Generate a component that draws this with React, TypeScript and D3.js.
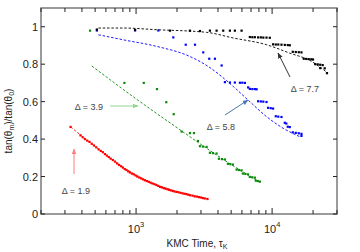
import * as d3 from "d3";

// time in KMC units, value = tan(theta_m)/tan(theta_0)
const redDots: [number, number][] = [
  [330, 0.465], [390, 0.42], [405, 0.41], [420, 0.4], [437, 0.392], [455, 0.385], [472, 0.375],
  [490, 0.366], [510, 0.356], [530, 0.345], [550, 0.337], [570, 0.33], [590, 0.32], [610, 0.312],
  [630, 0.304], [650, 0.296], [675, 0.288], [700, 0.28], [725, 0.27], [750, 0.262], [775, 0.255],
  [800, 0.248], [825, 0.24], [850, 0.235], [875, 0.228], [900, 0.222], [930, 0.216], [960, 0.212],
  [990, 0.206], [1020, 0.2], [1055, 0.195], [1090, 0.19], [1125, 0.185], [1160, 0.18], [1200, 0.176],
  [1240, 0.172], [1280, 0.167], [1320, 0.163], [1365, 0.159], [1410, 0.155], [1455, 0.15],
  [1500, 0.145], [1550, 0.142], [1600, 0.138], [1650, 0.135], [1700, 0.132], [1750, 0.129],
  [1800, 0.126], [1860, 0.123], [1920, 0.12], [1985, 0.118], [2050, 0.116], [2120, 0.113],
  [2200, 0.11], [2275, 0.108], [2350, 0.106], [2420, 0.103], [2500, 0.1], [2600, 0.098],
  [2700, 0.094], [2800, 0.093], [2900, 0.09], [3000, 0.088], [3100, 0.085], [3200, 0.083], [3350, 0.08],
];
const redFit: [number, number][] = [[330, 0.465], [500, 0.36], [800, 0.25], [1300, 0.165], [2000, 0.12], [3400, 0.08]];

const greenDots: [number, number][] = [
  [459, 0.979], [821, 0.7], [1139, 0.7], [1425, 0.667], [1668, 0.597], [1891, 0.533],
  [2163, 0.44], [2490, 0.432], [2665, 0.432], [2850, 0.39],
  [2948, 0.362], [3102, 0.36], [3302, 0.358],
  [3490, 0.327], [3674, 0.325], [3908, 0.323],
  [4065, 0.295], [4276, 0.293], [4498, 0.291],
  [4731, 0.268], [4934, 0.266], [5150, 0.264],
  [5483, 0.237], [5700, 0.235], [5965, 0.233],
  [6095, 0.216], [6355, 0.214], [6633, 0.212],
  [6855, 0.198], [7155, 0.196], [7470, 0.194],
  [7585, 0.178], [7850, 0.176], [8130, 0.173],
];
const greenFit: [number, number][] = [[473, 0.79], [1000, 0.615], [2100, 0.45], [4000, 0.31], [8100, 0.17]];

const blueDots: [number, number][] = [
  [515, 0.98], [983, 0.98], [1458, 0.98], [1878, 0.943], [2318, 0.904], [2711, 0.904],
  [3118, 0.863], [3452, 0.829], [3800, 0.829], [4256, 0.793],
  [4498, 0.704], [4895, 0.702], [5323, 0.702], [5796, 0.701], [6040, 0.701], [6310, 0.7],
  [6668, 0.676],
  [6861, 0.668], [7160, 0.667], [7467, 0.667], [7690, 0.666],
  [7896, 0.602], [8265, 0.601], [8618, 0.6], [9096, 0.598],
  [9340, 0.567], [9775, 0.565], [10169, 0.563],
  [10644, 0.522], [11104, 0.52], [11722, 0.518],
  [12400, 0.487], [12720, 0.483],
  [13040, 0.466], [13490, 0.464],
  [14190, 0.436], [14930, 0.433], [15710, 0.431], [16440, 0.428], [16440, 0.417],
];
const blueFit: [number, number][] = [
  [529, 0.957], [807, 0.93], [1418, 0.895], [2489, 0.841], [3388, 0.788], [5176, 0.681],
  [6855, 0.6], [9096, 0.52], [12050, 0.458], [15960, 0.413],
];

const blackDots: [number, number][] = [
  [515, 0.985], [983, 0.983], [1775, 0.979], [2490, 0.979], [2948, 0.977], [3490, 0.979],
  [3908, 0.979], [4371, 0.979], [4895, 0.979], [5323, 0.979], [5965, 0.979],
  [6861, 0.945], [7160, 0.944], [7467, 0.944], [7896, 0.943], [8265, 0.943], [8618, 0.942], [9096, 0.942], [9618, 0.941],
  [10169, 0.906], [10644, 0.905], [11104, 0.905], [11722, 0.904], [12400, 0.903], [13040, 0.902], [13490, 0.901],
  [14190, 0.866], [14930, 0.865], [15710, 0.864], [16440, 0.863],
  [17090, 0.829], [17820, 0.828], [18590, 0.827], [19400, 0.826], [19990, 0.825],
  [20750, 0.8], [21640, 0.799], [22580, 0.797], [23550, 0.795],
  [22580, 0.779], [24360, 0.778], [25320, 0.752],
];
const blackFit: [number, number][] = [
  [529, 0.993], [807, 0.993], [1418, 0.984], [3304, 0.97], [5176, 0.94], [9096, 0.904],
  [13490, 0.859], [18920, 0.82], [25760, 0.752],
];

const yTicks = [0, 0.2, 0.4, 0.6, 0.8, 1];
const yTickLabels = ["0", "0.2", "0.4", "0.6", "0.8", "1"];

const series = [
  { dots: redDots, fit: redFit, color: "#ff0000" },
  { dots: greenDots, fit: greenFit, color: "#0a8a0a" },
  { dots: blueDots, fit: blueFit, color: "#0000ff" },
  { dots: blackDots, fit: blackFit, color: "#000000" },
];

// annotation labels with arrows
const notes = [
  { label: "Δ = 1.9", tx: 76, ty: 194, from: [74, 174], to: [74, 149], color: "#ff7f7f" },
  { label: "Δ = 3.9", tx: 89, ty: 110, from: [110, 106], to: [138, 106], color: "#8fd88f" },
  { label: "Δ = 5.8", tx: 221, ty: 130, from: [225, 115], to: [248, 100], color: "#4a78b0" },
  { label: "Δ = 7.7", tx: 305, ty: 92, from: [290, 77], to: [278, 53], color: "#333333" },
];

export default function App() {
  const width = 360, height = 252;
  const m = { left: 41, right: 23, top: 8, bottom: 38 };
  const x = d3.scaleLog().domain([200, 30000]).range([m.left, width - m.right]);
  const y = d3.scaleLinear().domain([0, 1.1]).range([height - m.bottom, m.top]);
  const line = d3.line<[number, number]>().x(d => x(d[0])).y(d => y(d[1])).curve(d3.curveMonotoneX);
  const xTicks = x.ticks();
  const axisColor = "#7a7a7a";
  const font = "Helvetica, Arial, 'Liberation Sans', sans-serif";
  const x0 = m.left, x1 = width - m.right, y0 = height - m.bottom, y1 = m.top;
  const r = 1.1;

  return (
    <div style={{ position: "absolute", left: 0, top: 0 }}>
      <svg width={width} height={height} style={{ display: "block", background: "#fff" }}>
        <defs>
          {notes.map((n, i) => (
            <marker key={i} id={`ah${i}`} viewBox="0 0 10 10" refX="9" refY="5" markerWidth="6" markerHeight="6" orient="auto-start-reverse">
              <path d="M0,1 L10,5 L0,9 Z" fill={n.color} />
            </marker>
          ))}
        </defs>

        {series.map((s, i) => (
          <g key={i}>
            <path d={line(s.fit) || ""} fill="none" stroke={s.color} strokeWidth={0.9} strokeDasharray="2.5,1.8" />
            {s.dots.map((d, j) => (
              <rect key={j} x={x(d[0]) - r} y={y(d[1]) - r} width={2 * r} height={2 * r} fill={s.color} />
            ))}
          </g>
        ))}

        {notes.map((n, i) => (
          <g key={i}>
            <line x1={n.from[0]} y1={n.from[1]} x2={n.to[0]} y2={n.to[1]} stroke={n.color} strokeWidth={1} markerEnd={`url(#ah${i})`} />
            <text x={n.tx} y={n.ty} textAnchor="middle" fontSize={9} fontFamily={font} fill="#444">{n.label}</text>
          </g>
        ))}

        {/* frame */}
        <rect x={x0} y={y1} width={x1 - x0} height={y0 - y1} fill="none" stroke={axisColor} strokeWidth={1.5} />

        {/* x ticks, bottom and top */}
        {xTicks.map((t, i) => {
          const major = Math.abs(Math.log10(t) - Math.round(Math.log10(t))) < 1e-9;
          const len = major ? 6 : 4;
          return (
            <g key={i} stroke="#222" strokeWidth={1}>
              <line x1={x(t)} x2={x(t)} y1={y0} y2={y0 - len} />
              <line x1={x(t)} x2={x(t)} y1={y1} y2={y1 + len} />
            </g>
          );
        })}
        {xTicks.filter(t => t === 1000 || t === 10000).map((t, i) => (
          <text key={i} x={x(t)} y={y0 + 19} textAnchor="middle" fontSize={11} fontFamily={font} fill="#222">
            10<tspan dy={-6} fontSize={7.5}>{Math.round(Math.log10(t))}</tspan>
          </text>
        ))}

        {/* y ticks, left and right */}
        {yTicks.map((t, i) => (
          <g key={i}>
            <line x1={x0} x2={x0 + 4} y1={y(t)} y2={y(t)} stroke="#222" />
            <line x1={x1} x2={x1 - 4} y1={y(t)} y2={y(t)} stroke="#222" />
            <text x={x0 - 3} y={y(t) + 4} textAnchor="end" fontSize={11} fontFamily={font} fill="#222">{yTickLabels[i]}</text>
          </g>
        ))}

        <text x={197} y={247} textAnchor="middle" fontSize={10} fontFamily={font} fill="#222">
          KMC Time, τ<tspan dy={2} fontSize={7}>K</tspan>
        </text>
        <text transform={`translate(12,${(y0 + y1) / 2 + 10}) rotate(-90)`} textAnchor="middle" fontSize={10} fontFamily={font} fill="#222">
          tan(θ<tspan dy={2} fontSize={7}>m</tspan><tspan dy={-2}>)/tan(θ</tspan><tspan dy={2} fontSize={7}>0</tspan><tspan dy={-2}>)</tspan>
        </text>
      </svg>
    </div>
  );
}
